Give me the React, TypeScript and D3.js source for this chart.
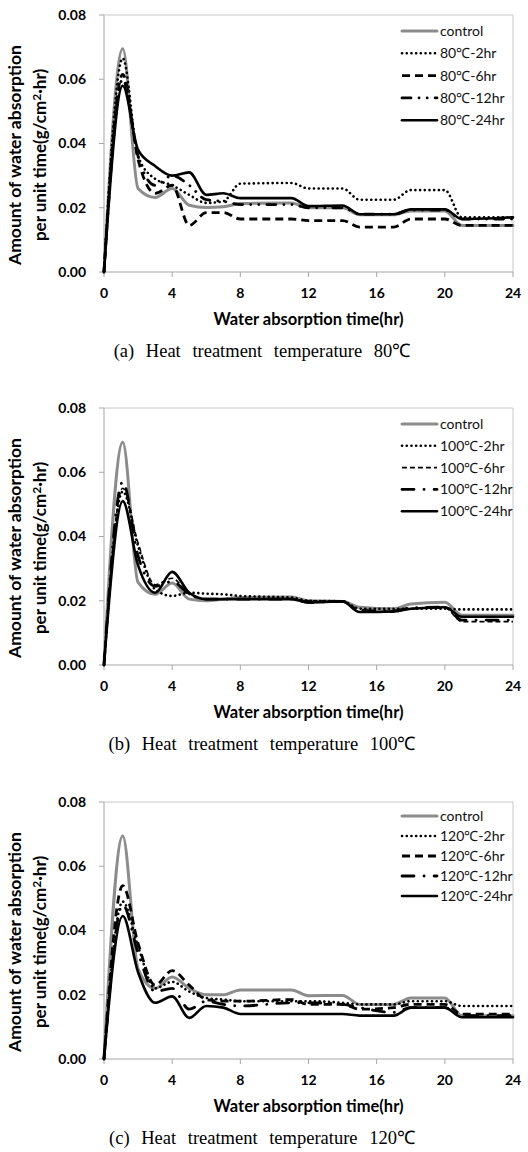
import React from 'react';
import * as d3 from 'd3';

// shared sampling times (hr)
const times = [0, 1.1, 2, 3, 4, 5, 6, 7, 8, 11, 12, 14, 15, 17, 18, 20, 21, 24];
const xTicks = [0, 4, 8, 12, 16, 20, 24];
const yTicks = [0, 0.02, 0.04, 0.06, 0.08];
const temps = ['80', '100', '120'];
const captions = ['(a)', '(b)', '(c)'];
const durations = ['2hr', '6hr', '12hr', '24hr'];

// (a) 80℃
const ctrlA = [0, 0.0695, 0.026, 0.0232, 0.026, 0.0208, 0.0201, 0.0203, 0.0213, 0.0215, 0.02, 0.02, 0.0178, 0.0178, 0.019, 0.019, 0.0145, 0.0145];
const a2 = [0, 0.0665, 0.036, 0.029, 0.027, 0.024, 0.0215, 0.022, 0.0275, 0.0277, 0.026, 0.026, 0.0225, 0.0225, 0.0255, 0.0255, 0.017, 0.017];
const a6 = [0, 0.0615, 0.035, 0.0245, 0.027, 0.0145, 0.0185, 0.0185, 0.0165, 0.0165, 0.016, 0.016, 0.014, 0.014, 0.0165, 0.0165, 0.0145, 0.0145];
const a12 = [0, 0.06, 0.036, 0.027, 0.03, 0.027, 0.0225, 0.022, 0.021, 0.021, 0.02, 0.02, 0.018, 0.018, 0.0193, 0.0193, 0.0165, 0.0165];
const a24 = [0, 0.058, 0.038, 0.033, 0.03, 0.031, 0.024, 0.0245, 0.023, 0.023, 0.0205, 0.0207, 0.018, 0.018, 0.0195, 0.0195, 0.0165, 0.017];

// (b) 100℃
const ctrlB = [0, 0.0693, 0.0257, 0.022, 0.0255, 0.0205, 0.02, 0.0205, 0.021, 0.0212, 0.02, 0.0198, 0.018, 0.0175, 0.019, 0.0195, 0.0155, 0.0155];
const b2 = [0, 0.054, 0.037, 0.0235, 0.0215, 0.0225, 0.0222, 0.022, 0.0215, 0.021, 0.02, 0.0198, 0.0175, 0.0175, 0.0175, 0.0175, 0.0173, 0.0173];
const b6 = [0, 0.055, 0.038, 0.025, 0.027, 0.022, 0.0205, 0.0205, 0.0205, 0.0205, 0.02, 0.0198, 0.0165, 0.0165, 0.0175, 0.0178, 0.0135, 0.0135];
const b12 = [0, 0.057, 0.034, 0.0245, 0.026, 0.022, 0.0205, 0.0205, 0.0205, 0.0205, 0.0195, 0.0198, 0.017, 0.0168, 0.0178, 0.018, 0.014, 0.014];
const b24 = [0, 0.051, 0.031, 0.0225, 0.029, 0.0225, 0.0205, 0.0205, 0.0205, 0.0205, 0.0195, 0.0198, 0.0165, 0.0167, 0.0175, 0.018, 0.015, 0.015];

// (c) 120℃
const ctrlC = [0, 0.0694, 0.028, 0.022, 0.0255, 0.022, 0.02, 0.02, 0.0215, 0.0215, 0.0197, 0.0198, 0.017, 0.017, 0.019, 0.019, 0.0135, 0.0135];
const c2 = [0, 0.049, 0.035, 0.022, 0.024, 0.021, 0.019, 0.0185, 0.018, 0.018, 0.018, 0.0175, 0.017, 0.017, 0.018, 0.018, 0.0165, 0.0165];
const c6 = [0, 0.054, 0.036, 0.023, 0.0275, 0.023, 0.0185, 0.018, 0.018, 0.0185, 0.017, 0.017, 0.0155, 0.016, 0.017, 0.017, 0.014, 0.014];
const c12 = [0, 0.048, 0.033, 0.021, 0.022, 0.0155, 0.018, 0.017, 0.0165, 0.0175, 0.0175, 0.017, 0.016, 0.0145, 0.016, 0.016, 0.0135, 0.0135];
const c24 = [0, 0.0445, 0.027, 0.0175, 0.0195, 0.0128, 0.0165, 0.016, 0.014, 0.014, 0.014, 0.014, 0.0135, 0.0135, 0.016, 0.016, 0.013, 0.013];

const panelData = [
  [ctrlA, a2, a6, a12, a24],
  [ctrlB, b2, b6, b12, b24],
  [ctrlC, c2, c6, c12, c24],
];

const W = 528;
const H = 1152;
const left = 104;
const right = 513;
const plotH = 257;
const tops = [15, 408, 802];
const legendStart = [16, 16, 14];
const legendStep = [22.3, 21.8, 20];

const sansBold = 'Lato, Calibri, sans-serif';

// stroke styles: control, 2hr, 6hr, 12hr, 24hr (6hr / 12hr differ per panel)
const styleFor = (panel: number, i: number) => {
  if (i === 0) return { stroke: '#8c8c8c', width: 3, dash: undefined, cap: 'round' };
  if (i === 1) return { stroke: '#000', width: 2.6, dash: '0.1 4.6', cap: 'round' };
  if (i === 2)
    return panel === 1
      ? { stroke: '#000', width: 1.6, dash: '5 3', cap: 'butt' }
      : { stroke: '#000', width: 2.8, dash: '8 5', cap: 'butt' };
  if (i === 3)
    return panel === 0
      ? { stroke: '#000', width: 2.8, dash: '9 8 0.1 8 0.1 8', cap: 'round' }
      : { stroke: '#000', width: 2.8, dash: '12 10 0.1 10', cap: 'round' };
  return { stroke: '#000', width: 2.6, dash: undefined, cap: 'round' };
};

const Panel = ({ idx }: { idx: number }) => {
  const top = tops[idx];
  const bottom = top + plotH;
  const x = d3.scaleLinear().domain([0, 24]).range([left, right]);
  const y = d3.scaleLinear().domain([0, 0.08]).range([bottom, top]);
  const line = d3
    .line<number>()
    .x((d, i) => x(times[i]))
    .y((d) => y(d))
    .curve(d3.curveMonotoneX);
  const labels = ['control', ...durations.map((d) => `${temps[idx]}℃-${d}`)];
  const series = panelData[idx];

  return (
    <g>
      {/* frame */}
      <line x1={left} x2={right} y1={top} y2={top} stroke="#c8c8c8" />
      <line x1={right} x2={right} y1={top} y2={bottom} stroke="#c8c8c8" />
      <line x1={left} x2={left} y1={top} y2={bottom} stroke="#a6a6a6" />
      <line x1={left} x2={right} y1={bottom} y2={bottom} stroke="#a6a6a6" />

      {yTicks.map((t) => (
        <g key={'y' + t}>
          <line x1={left - 5} x2={left} y1={y(t)} y2={y(t)} stroke="#a6a6a6" />
          <text x={86} y={y(t)} dy="0.35em" textAnchor="end" fontFamily={sansBold} fontWeight="bold" fontSize={14}>
            {d3.format('.2f')(t)}
          </text>
        </g>
      ))}
      {xTicks.map((t) => (
        <g key={'x' + t}>
          <line x1={x(t)} x2={x(t)} y1={bottom} y2={bottom + 5} stroke="#a6a6a6" />
          <text x={x(t)} y={bottom + 21} dy="0.35em" textAnchor="middle" fontFamily={sansBold} fontWeight="bold" fontSize={14}>
            {t}
          </text>
        </g>
      ))}

      {series.map((s, i) => {
        const st = styleFor(idx, i);
        return (
          <path
            key={i}
            d={line(s) || ''}
            fill="none"
            stroke={st.stroke}
            strokeWidth={st.width}
            strokeDasharray={st.dash}
            strokeLinecap={st.cap as any}
            strokeLinejoin="round"
          />
        );
      })}

      {/* legend */}
      {labels.map((lab, i) => {
        const st = styleFor(idx, i);
        const ly = top + legendStart[idx] + i * legendStep[idx];
        return (
          <g key={lab}>
            <line x1={402} x2={437} y1={ly} y2={ly} stroke={st.stroke} strokeWidth={st.width}
              strokeDasharray={st.dash} strokeLinecap={st.cap as any} />
            <text x={440} y={ly} dy="0.35em" fontFamily="Lato, Calibri, sans-serif" fontSize={14} fill="#111">
              {lab}
            </text>
          </g>
        );
      })}

      {/* axis titles */}
      <g transform={`translate(15,${top + 140}) rotate(-90)`}>
        <text textAnchor="middle" dy="0.35em" fontFamily={sansBold} fontWeight="bold" fontSize={17.5}>
          Amount of water absorption
        </text>
      </g>
      <g transform={`translate(40,${top + 140}) rotate(-90)`}>
        <text textAnchor="middle" dy="0.35em" fontFamily={sansBold} fontWeight="bold" fontSize={17}>
          per unit time(g/cm<tspan dy="-5" fontSize={12}>2</tspan><tspan dy="5">·hr)</tspan>
        </text>
      </g>
      <text x={(left + right) / 2} y={bottom + 47} dy="0.35em" textAnchor="middle" fontFamily={sansBold} fontWeight="bold" fontSize={16.5}>
        Water absorption time(hr)
      </text>
      <text x={262} y={bottom + 79} dy="0.35em" textAnchor="middle" fontFamily="'Liberation Serif', 'Times New Roman', serif"
        fontSize={18.5} wordSpacing={7}>
        {`${captions[idx]} Heat treatment temperature ${temps[idx]}℃`}
      </text>
    </g>
  );
};

export default function App() {
  return (
    <svg width={W} height={H} style={{ position: 'absolute', left: 0, top: 0, background: '#fff' }}>
      <rect width={W} height={H} fill="#fff" />
      {[0, 1, 2].map((i) => (
        <Panel key={i} idx={i} />
      ))}
    </svg>
  );
}
